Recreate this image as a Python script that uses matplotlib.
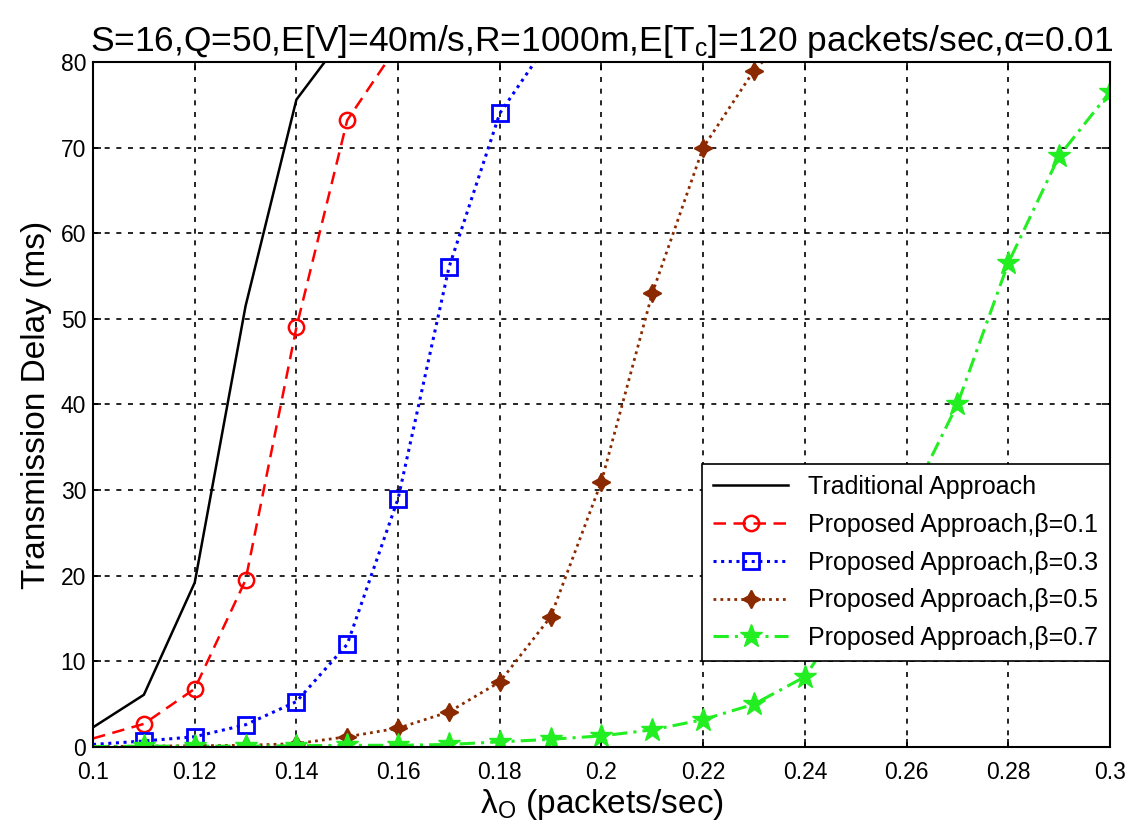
import matplotlib
matplotlib.use("Agg")
import matplotlib.pyplot as plt
import numpy as np

plt.rcParams['font.family'] = ['Liberation Sans', 'DejaVu Sans']
plt.rcParams['mathtext.fontset'] = 'custom'
plt.rcParams['mathtext.rm'] = 'Liberation Sans'
plt.rcParams['mathtext.it'] = 'Liberation Sans'

# Data
lam = [0.10, 0.11, 0.12, 0.13, 0.14, 0.15, 0.16, 0.17, 0.18, 0.19, 0.20,
       0.21, 0.22, 0.23, 0.24, 0.25, 0.26, 0.27, 0.28, 0.29, 0.30]
trad_x = [0.10, 0.11, 0.12, 0.13, 0.14, 0.15]
trad_y = [2.3, 6.1, 19.2, 51.5, 75.6, 83.5]
b01_x = [0.10, 0.11, 0.12, 0.13, 0.14, 0.15, 0.16]
b01_y = [1.0, 2.7, 6.8, 19.5, 49.0, 73.2, 82.0]
b03_x = [0.10, 0.11, 0.12, 0.13, 0.14, 0.15, 0.16, 0.17, 0.18, 0.19]
b03_y = [0.3, 0.7, 1.2, 2.6, 5.3, 12.0, 29.0, 56.0, 74.0, 82.7]
b05_x = [0.10, 0.11, 0.12, 0.13, 0.14, 0.15, 0.16, 0.17, 0.18, 0.19, 0.20,
         0.21, 0.22, 0.23, 0.24]
b05_y = [0.05, 0.1, 0.15, 0.2, 0.4, 1.2, 2.2, 4.1, 7.6, 15.2, 31.0,
         53.0, 70.0, 79.0, 85.0]
b07_x = lam
b07_y = [0.05, 0.1, 0.1, 0.1, 0.15, 0.2, 0.2, 0.3, 0.6, 0.9, 1.3,
         2.0, 3.2, 5.0, 8.2, 17.0, 28.0, 40.0, 56.5, 69.0, 76.5]

labels = ['Traditional Approach',
          'Proposed Approach,\u03b2=0.1',
          'Proposed Approach,\u03b2=0.3',
          'Proposed Approach,\u03b2=0.5',
          'Proposed Approach,\u03b2=0.7']

xticks = [0.1, 0.12, 0.14, 0.16, 0.18, 0.2, 0.22, 0.24, 0.26, 0.28, 0.3]
xticklabels = ['0.1', '0.12', '0.14', '0.16', '0.18', '0.2', '0.22', '0.24', '0.26', '0.28', '0.3']
yticks = [0, 10, 20, 30, 40, 50, 60, 70, 80]

fig = plt.figure(figsize=(11.36, 8.34), dpi=100)
ax = fig.add_axes([0.0819, 0.1043, 0.8951, 0.8214])

ax.plot(trad_x, trad_y, color='black', lw=1.8, label=labels[0])
ax.plot(b01_x, b01_y, color='red', ls=(0, (5, 3)), lw=1.8, marker='o', ms=11,
        mfc='none', mec='red', mew=1.8, markevery=slice(1, None), label=labels[1])
ax.plot(b03_x, b03_y, color='blue', ls=(0, (1, 1.5)), lw=2.2, marker='s', ms=11,
        mfc='none', mec='blue', mew=2.0, markevery=slice(1, None), label=labels[2])
ax.plot(b05_x, b05_y, color='#8b2a00', ls=(0, (1, 1.5)), lw=2.0, marker=(4, 1, 0), ms=13,
        mfc='#8b2a00', mec='#8b2a00', mew=1.2, markevery=slice(1, None), label=labels[3])
ax.plot(b07_x, b07_y, color='#22ee22', ls=(0, (5, 2, 1, 2)), lw=2.2, marker='*', ms=17,
        mfc='#22ee22', mec='#22ee22', mew=1.0, markevery=slice(1, None), label=labels[4])

ax.set_xlim(0.1, 0.3)
ax.set_ylim(0, 80)
ax.set_xticks(xticks)
ax.set_xticklabels(xticklabels)
ax.set_yticks(yticks)
ax.tick_params(direction='in', length=6, width=1.2, top=True, right=True, labelsize=16.5)
ax.tick_params(axis='x', pad=10)
ax.tick_params(axis='y', pad=5)
ax.grid(True, color='black', ls=(0, (3, 4)), lw=1.2)
for s in ax.spines.values():
    s.set_linewidth(1.5)

ax.set_title('S=16,Q=50,E[V]=40m/s,R=1000m,E[T$_{\\mathregular{c}}$]=120 packets/sec,$\\alpha$=0.01',
             fontsize=25.5, pad=8)
ax.set_ylabel('Transmission Delay (ms)', fontsize=24, labelpad=6)
ax.set_xlabel('$\\mathregular{\\lambda_{O}}$ (packets/sec)', fontsize=24, labelpad=2)

leg = ax.legend(loc='lower right', bbox_to_anchor=(1.0, 0.125), fontsize=18,
                handlelength=3.0, fancybox=False, framealpha=1, edgecolor='black',
                borderaxespad=0, labelspacing=0.55, borderpad=0.45)
leg.get_frame().set_linewidth(1.2)

fig.savefig('out.png', dpi=100)
